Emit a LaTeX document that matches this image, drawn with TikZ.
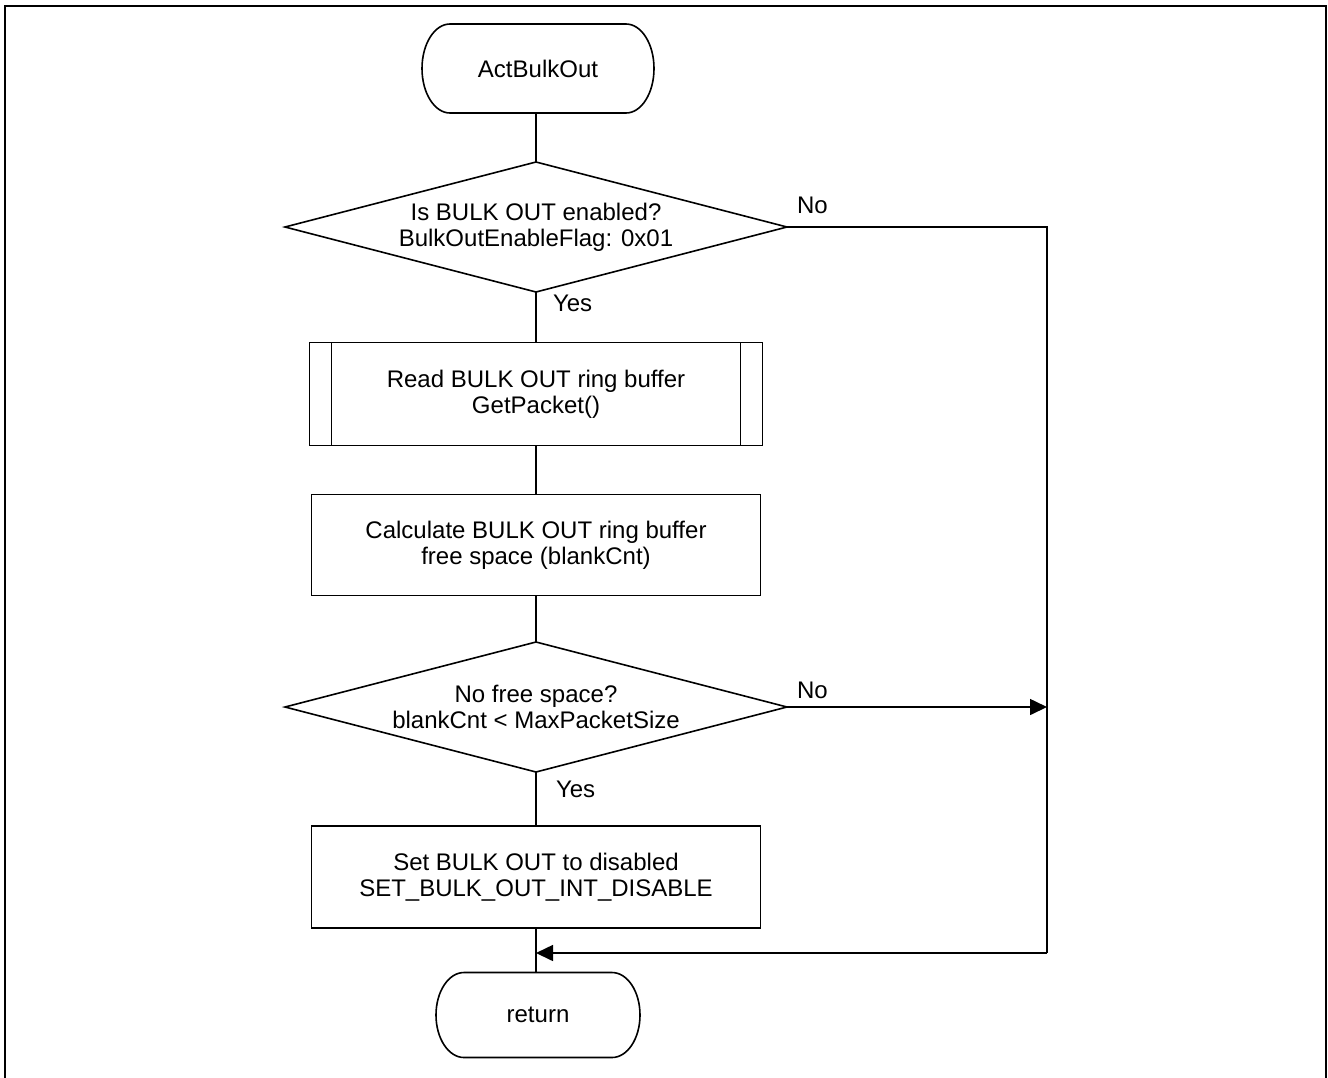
\documentclass[tikz,border=0pt]{standalone}
\usepackage{fontspec}
\setmainfont{Liberation Sans}
\usetikzlibrary{shapes.geometric,arrows.meta,calc}

% outline of a terminal: straight top and bottom, half-elliptic ends
\newcommand\termoutline[2]{%
  \draw ([xshift=14pt]#1.north west) -- ([xshift=-14pt]#1.north east)
    arc[start angle=90,end angle=-90,x radius=14pt,y radius=#2]
    -- ([xshift=14pt]#1.south west)
    arc[start angle=270,end angle=90,x radius=14pt,y radius=#2] -- cycle;}

\begin{document}
\begin{tikzpicture}[x=0.5pt,y=-0.5pt,
  line width=0.8pt,
  every node/.style={font=\fontsize{12}{13}\selectfont, align=center, inner sep=0pt, outer sep=0pt},
  term/.style 2 args={rectangle, minimum width=#1, minimum height=#2},
  decision/.style={diamond, draw, aspect=3.86, minimum width=251pt, minimum height=65pt},
  procbox/.style={rectangle, draw, minimum width=224.5pt, minimum height=50.5pt},
  subrbox/.style={rectangle, draw, minimum width=226.5pt, minimum height=51.5pt},
  flow/.style={-{Triangle[length=8.5pt,width=8pt]}},
]
\useasboundingbox (0,0) rectangle (1328,1077);

% page frame (open at the bottom edge of the page)
\draw[line width=1.2pt] (5,6) rectangle (1326,1100);

% start terminal
\node[term={116pt}{44.5pt}] (start) at (538,68.5) {ActBulkOut};
\termoutline{start}{22.25pt}

% first decision
\node[decision] (d1) at (536,227) {};
\node (d1t) at (d1) {Is BULK OUT enabled?\\BulkOutEnableFlag: 0x01};

% predefined process
\node[subrbox] (sub) at (536,394) {Read BULK OUT ring buffer\\GetPacket()};
\draw ([xshift=11pt]sub.north west) -- ([xshift=11pt]sub.south west);
\draw ([xshift=-11pt]sub.north east) -- ([xshift=-11pt]sub.south east);

% free space calculation
\node[procbox] (calc) at (536,545) {Calculate BULK OUT ring buffer\\free space (blankCnt)};

% second decision
\node[decision] (d2) at (536,707) {};
\node (d2t) at (d2) {No free space?\\blankCnt < MaxPacketSize};

% disable step
\node[procbox, minimum height=51pt] (set) at (536,877) {Set BULK OUT to disabled\\SET\_BULK\_OUT\_INT\_DISABLE};

% return terminal
\node[term={102pt}{42.5pt}] (ret) at (538,1015) {return};
\termoutline{ret}{21.25pt}

% branch labels
\node[anchor=west] (no1) at (797,205) {No};
\node[anchor=west] (yes1) at (553,303) {Yes};
\node[anchor=west] (no2) at (797,690) {No};
\node[anchor=west] (yes2) at (556,789) {Yes};

% main column
\draw (start.south -| d1.north) -- (d1);
\draw (d1) -- (sub);
\draw (sub) -- (calc);
\draw (calc) -- (d2);
\draw (d2) -- (set);
\draw (set) -- (ret.north -| set.south);

% bypass on the right
\coordinate (rc) at (1047,953);
\coordinate (mg) at (set.south |- rc);
\coordinate (jn) at (d2.east -| rc);
\draw (d1.east) -| (rc);
\draw[flow] (rc) -- (mg);
\draw[flow] (d2.east) -- (jn);
\end{tikzpicture}
\end{document}
